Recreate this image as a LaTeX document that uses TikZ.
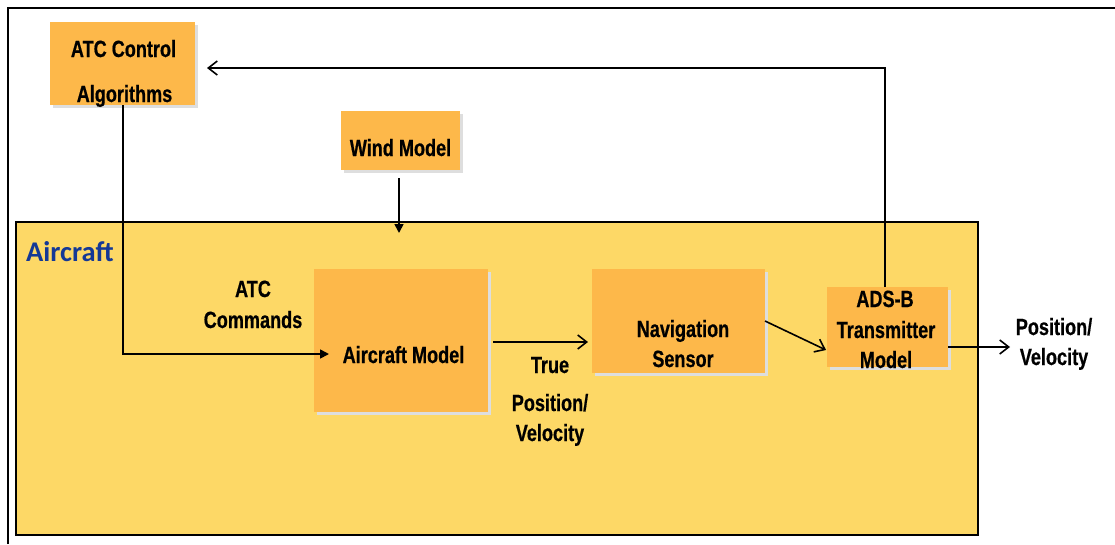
\documentclass[tikz,border=0pt]{standalone}
\usepackage{fontspec}
\setmainfont{Liberation Sans}[FakeStretch=0.77, BoldFeatures={FakeBold=0.6}]
\newfontfamily\calib{Carlito}
\usetikzlibrary{arrows.meta,shadows}
\definecolor{boxor}{RGB}{253,184,74}
\definecolor{airy}{RGB}{253,216,102}
\definecolor{shad}{RGB}{222,222,222}
\definecolor{airblue}{RGB}{20,56,150}
\begin{document}
\begin{tikzpicture}[x=1pt,y=-1pt,
  obox/.style={fill=boxor, draw=none, inner sep=0pt, outer sep=0pt,
    drop shadow={shadow xshift=3pt, shadow yshift=-3pt, fill=shad, opacity=1}},
  lbl/.style={anchor=base, inner sep=0pt, font=\bfseries\fontsize{23.5}{26}\selectfont},
  wire/.style={line width=1.6pt},
  openar/.style={wire, -{Straight Barb[length=9pt,width=14pt]}},
  fillar/.style={wire, -{Triangle[length=9pt,width=9pt]}}]
\useasboundingbox (0,0) rectangle (1115,544);
% outer frame
\draw[line width=2pt] (8,544) -- (8,8) -- (1115,8);
% aircraft container
\node[fill=airy, draw=black, line width=2pt, inner sep=0pt, minimum width=962pt, minimum height=313pt] (air) at (497,378.5) {};
\node[anchor=base west, inner sep=0pt, text=airblue, font=\calib\bfseries\fontsize{28.5}{30}\selectfont] (airT) at (26,261) {Aircraft};
% boxes
\node[obox, minimum width=145pt, minimum height=83pt] (atc) at (122.5,63.5) {};
\node[obox, minimum width=119pt, minimum height=59pt] (wind) at (400.5,140.5) {};
\node[obox, minimum width=174pt, minimum height=143pt] (acm) at (401,340.5) {};
\node[obox, minimum width=173pt, minimum height=104pt] (nav) at (678.5,321) {};
\node[obox, minimum width=121pt, minimum height=80pt] (ads) at (887.5,327) {};
% box texts
\node[lbl] (atcT1) at (123.5,57) {ATC Control};
\node[lbl] (atcT2) at (124.5,102) {Algorithms};
\node[lbl] (windT) at (400.5,156) {Wind Model};
\node[lbl] (acmT) at (403.5,363) {Aircraft Model};
\node[lbl] (navT1) at (683,337) {Navigation};
\node[lbl] (navT2) at (683,367) {Sensor};
\node[lbl] (adsT1) at (885,307) {ADS-B};
\node[lbl] (adsT2) at (886,338) {Transmitter};
\node[lbl] (adsT3) at (886,368) {Model};
% connector labels
\node[lbl] (cmdT1) at (253,297) {ATC};
\node[lbl] (cmdT2) at (253,328) {Commands};
\node[lbl] (trT1) at (550,373) {True};
\node[lbl] (trT2) at (550,411) {Position/};
\node[lbl] (trT3) at (550,441) {Velocity};
\node[lbl] (outT1) at (1054,335) {Position/};
\node[lbl] (outT2) at (1054,365) {Velocity};
% helper coordinates
\coordinate (cmdC) at (123,354);
\coordinate (cmdE) at (329,354);
\coordinate (windE) at (399,233);
\coordinate (fbC) at (885,68);
\coordinate (trY) at (0,342);
\coordinate (n1) at (765,321);
\coordinate (n2) at (826,350);
\coordinate (outE) at (1010,347);
% connectors
\draw[fillar] (atc.south -| cmdC) -- (cmdC) -- (cmdE);
\draw[fillar, shorten <=8pt] (wind.south -| windE) -- (windE);
\draw[openar, shorten <=5pt, shorten >=4pt] (acm.east |- trY) -- (nav.west |- trY);
\draw[openar] (n1) -- (n2);
\draw[openar] (ads.east |- outE) -- (outE);
\draw[openar, shorten >=12pt] (ads.north -| fbC) -- (fbC) -- (fbC -| atc.east);
\end{tikzpicture}
\end{document}
